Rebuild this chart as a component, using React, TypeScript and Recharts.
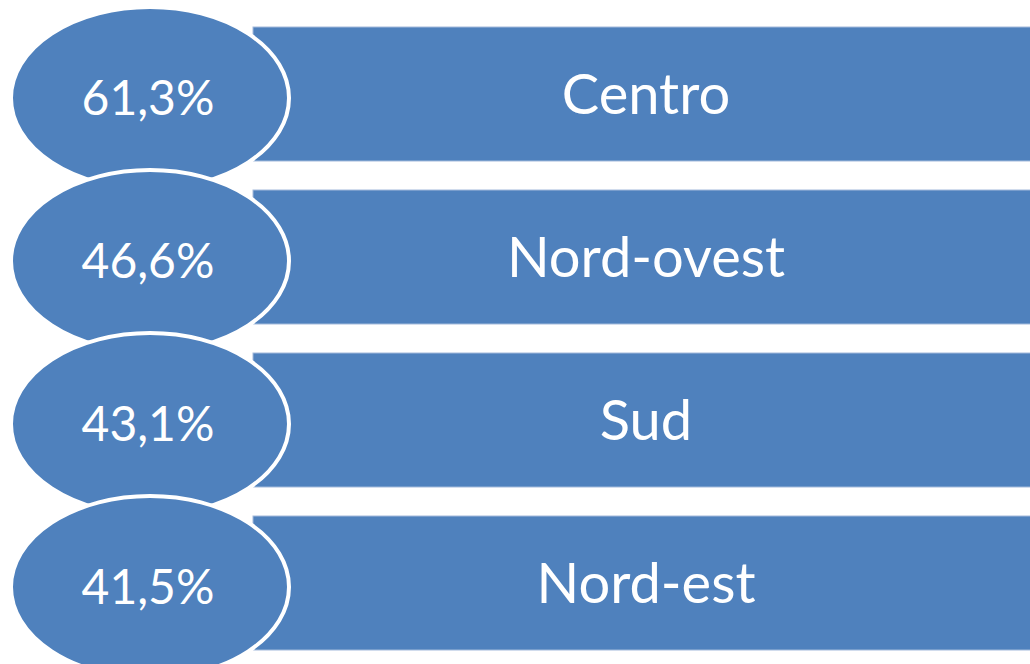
import React from "react";
import { BarChart, Bar, XAxis, YAxis } from "recharts";

const regions = ["Centro", "Nord-ovest", "Sud", "Nord-est"];
const shares = [61.3, 46.6, 43.1, 41.5];

const data = regions.map((region, i) => ({ region, value: shares[i] }));

const BLUE = "#4F81BD";
const FONT = "Lato, 'Open Sans', sans-serif";

const fmt = (v: number) => v.toFixed(1).replace(".", ",") + "%";

const BannerShape = (props: any) => {
  const { y, height, payload } = props;
  const cy = y + height / 2;
  const ecy = cy + 4;
  return (
    <g>
      <rect x={253} y={y} width={800} height={height} fill={BLUE} stroke="#A3BADB" strokeWidth={1} />
      <text
        x={646}
        y={cy + 20}
        textAnchor="middle"
        fill="#fff"
        fontSize={56}
        fontFamily={FONT}
      >
        {payload.region}
      </text>
      <ellipse cx={150} cy={ecy} rx={139} ry={91} fill={BLUE} stroke="#fff" strokeWidth={4} />
      <text
        x={148}
        y={ecy + 17}
        textAnchor="middle"
        fill="#fff"
        fontSize={48}
        fontFamily={FONT}
      >
        {fmt(payload.value)}
      </text>
    </g>
  );
};

export default function App() {
  return (
    <div style={{ position: "absolute", left: 0, top: 0, width: 1030, height: 664, background: "#fff" }}>
      <BarChart
        width={1030}
        height={664}
        data={data}
        layout="vertical"
        margin={{ top: 12, right: 0, bottom: 0, left: 0 }}
      >
        <XAxis type="number" domain={[0, 100]} hide />
        <YAxis type="category" dataKey="region" hide />
        <Bar dataKey="value" barSize={134} isAnimationActive={false} shape={BannerShape} />
      </BarChart>
    </div>
  );
}
